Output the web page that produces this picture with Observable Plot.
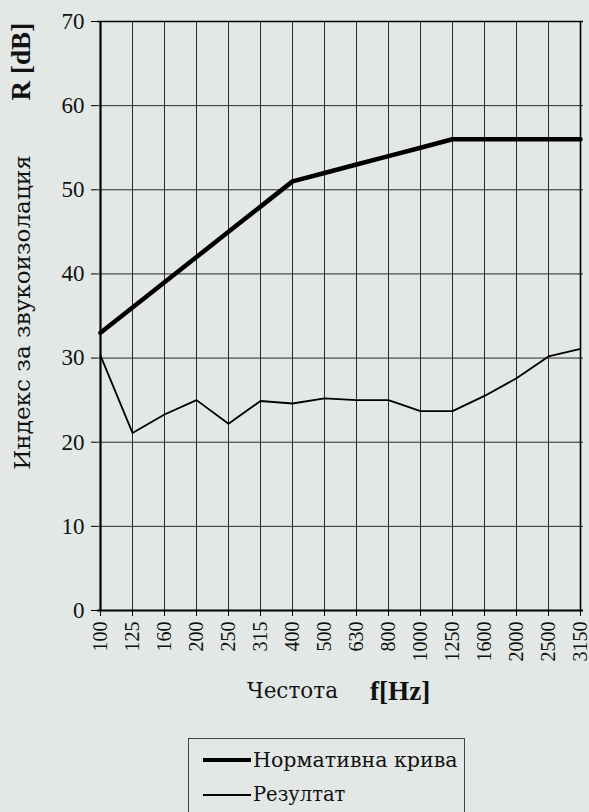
<!DOCTYPE html>
<html>
<head>
<meta charset="utf-8">
<script src="https://cdn.jsdelivr.net/npm/d3@7"></script>
<script src="https://cdn.jsdelivr.net/npm/@observablehq/plot@0.6"></script>
<style>
  html, body { margin: 0; padding: 0; background: #e3e8e6; }
  body { width: 589px; height: 812px; position: relative; overflow: hidden; font-family: 'Liberation Serif', 'DejaVu Serif', serif; color: #111; }
  #chart { position: absolute; left: 0; top: 0; }
  .t { position: absolute; white-space: nowrap; line-height: 1; }
  .cyr { font-family: 'DejaVu Serif', serif; }
  .legend { position: absolute; left: 188px; top: 738px; width: 277px; height: 90px; border: 1px solid #444; box-sizing: border-box; }
  .leg-line { position: absolute; left: 14px; width: 48px; background: #000; }
</style>
</head>
<body>
<div id="chart"></div>
<div class="t cyr" id="yt1" style="font-size:22px">Индекс за звукоизолация</div>
<div class="t" id="yt2" style="font-size:24px"><b>R [dB]</b></div>
<div class="t cyr" id="xt1" style="font-size:22px">Честота</div>
<div class="t" id="xt2" style="font-size:24px"><b>f[Hz]</b></div>
<div class="legend">
  <div class="leg-line" style="top:19px;height:4px"></div>
  <div class="leg-line" style="top:55px;height:2px"></div>
</div>
<div class="t cyr" id="lg1" style="font-size:21px">Нормативна крива</div>
<div class="t cyr" id="lg2" style="font-size:21px">Резултат</div>
<script>
const frequencies = ["100","125","160","200","250","315","400","500","630","800","1000","1250","1600","2000","2500","3150"];
const normative = [33,36,39,42,45,48,51,52,53,54,55,56,56,56,56,56];
const result = [30.3,21.1,23.3,25.0,22.2,24.9,24.6,25.2,25.0,25.0,23.7,23.7,25.5,27.6,30.2,31.1];
const yTicks = [0,10,20,30,40,50,60,70];

const normData = frequencies.map((f, i) => ({f, v: normative[i]}));
const resData = frequencies.map((f, i) => ({f, v: result[i]}));

const serif = "'Liberation Serif', 'DejaVu Serif', serif";
const chart = Plot.plot({
  width: 589,
  height: 690,
  marginLeft: 97,
  marginRight: 6,
  marginTop: 21,
  marginBottom: 80,
  style: { background: "transparent", fontFamily: serif, fontSize: "21px", color: "#111" },
  x: { type: "point", domain: frequencies, padding: 0 },
  y: { domain: [0, 70], ticks: yTicks },
  marks: [
    Plot.ruleX(frequencies, { stroke: "#2a2a2a", strokeWidth: 1 }),
    Plot.ruleY(yTicks.filter(d => d > 0), { stroke: "#2a2a2a", strokeWidth: 1 }),
    Plot.ruleX([frequencies[0]], { stroke: "#000", strokeWidth: 2.2 }),
    Plot.ruleX([frequencies[frequencies.length - 1]], { stroke: "#000", strokeWidth: 1.6 }),
    Plot.ruleY([0], { stroke: "#000", strokeWidth: 1.8 }),
    Plot.ruleY([70], { stroke: "#000", strokeWidth: 1.6 }),
    Plot.axisY(yTicks, { tickSize: 6, tickPadding: 7, fontSize: 23, fontFamily: serif, label: null, stroke: "#000" }),
    Plot.axisX(frequencies, { tickSize: 6, tickPadding: 5, tickRotate: -90, fontSize: 20, fontFamily: serif, label: null, stroke: "#000" }),
    Plot.line(normData, { x: "f", y: "v", stroke: "#000", strokeWidth: 4.5, strokeLinejoin: "miter" }),
    Plot.line(resData, { x: "f", y: "v", stroke: "#000", strokeWidth: 1.8 })
  ]
});
document.getElementById("chart").appendChild(chart);

function fit(id, targetW) {
  const el = document.getElementById(id);
  const fs = parseFloat(el.style.fontSize);
  const w = el.offsetWidth;
  const nfs = Math.min(fs * 1.25, Math.max(fs * 0.75, fs * targetW / w));
  el.style.fontSize = nfs + "px";
  return el;
}
function placeRot(id, targetW, cx, cy) {
  const el = fit(id, targetW);
  const w = el.offsetWidth, h = el.offsetHeight;
  el.style.left = (cx - w / 2) + "px";
  el.style.top = (cy - h / 2) + "px";
  el.style.transform = "rotate(-90deg)";
}
function place(id, targetW, left, cy) {
  const el = fit(id, targetW);
  el.style.left = left + "px";
  el.style.top = (cy - el.offsetHeight / 2) + "px";
}
placeRot("yt1", 315, 22, 312);
placeRot("yt2", 78, 22, 61);
place("xt1", 91, 247, 691);
place("xt2", 60, 370, 691);
place("lg1", 205, 253, 760);
place("lg2", 92, 253, 795);
</script>
</body>
</html>
